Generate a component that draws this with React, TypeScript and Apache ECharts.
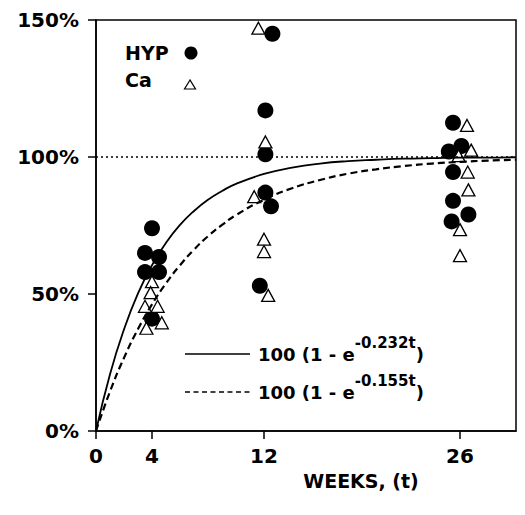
import React, { useEffect, useRef } from "react";
import * as echarts from "echarts";

// Tick labels
const xTicks = [0, 4, 12, 26];
const yTicks = [0, 50, 100, 150];

// HYP (filled circles): week (with plotted jitter) and percent
const hypT = [4.0, 3.5, 4.5, 3.5, 4.5, 4.0, 12.6, 12.1, 12.1, 12.1, 12.5, 11.7, 25.5, 26.1, 25.2, 25.5, 25.5, 26.6, 25.4];
const hypPct = [74, 65, 63.5, 58, 58, 41, 145, 117, 101, 87, 82, 53, 112.5, 104, 102, 94.5, 84, 79, 76.5];

// Ca (open triangles)
const caT = [4.0, 3.9, 3.5, 4.4, 3.6, 4.7, 11.6, 12.1, 11.3, 12.0, 12.0, 12.3, 26.5, 26.8, 25.9, 26.55, 26.6, 26.0, 26.0];
const caPct = [54.5, 50.5, 45.5, 45.5, 37.5, 39.5, 147, 105.5, 85.5, 70, 65.5, 49.5, 111.5, 102.5, 100.5, 94.5, 88, 73.5, 64];

// Fitted curves
const curveT = [0, 1, 2, 3, 4, 5, 6, 7, 8, 9, 10, 12, 14, 16, 18, 20, 22, 24, 26, 28, 30];
const fastCurve = [0, 20.7, 37.1, 50.2, 60.5, 68.7, 75.2, 80.3, 84.4, 87.6, 90.2, 93.8, 96.1, 97.6, 98.5, 99.0, 99.4, 99.6, 99.8, 99.8, 99.9];
const slowCurve = [0, 14.4, 26.7, 37.2, 46.2, 53.9, 60.5, 66.2, 71.1, 75.2, 78.8, 84.4, 88.6, 91.6, 93.9, 95.5, 96.7, 97.6, 98.2, 98.7, 99.0];

const FONT = "DejaVu Sans";

export default function App() {
  const ref = useRef<HTMLDivElement>(null);
  useEffect(() => {
    if (!ref.current) return;
    const chart = echarts.init(ref.current, null, { renderer: "svg" });
    const txt = { fontFamily: FONT, fontWeight: "bold" as const, color: "#000" };
    const eqRich = {
      a: { fontFamily: FONT, fontWeight: "bold", fontSize: 18, lineHeight: 37, fill: "#000", color: "#000" },
      b: { fontFamily: FONT, fontWeight: "bold", fontSize: 15, lineHeight: 15, verticalAlign: "top", fill: "#000", color: "#000" },
    };
    chart.setOption({
      animation: false,
      backgroundColor: "#fff",
      grid: {
        left: 96, right: 9, top: 20, bottom: 84, containLabel: false,
        show: true, borderColor: "#000", borderWidth: 1.5, backgroundColor: "transparent",
      },
      xAxis: {
        type: "value", min: 0, max: 30,
        splitLine: { show: false },
        axisLine: { show: true, onZero: false, lineStyle: { color: "#000", width: 1.5 } },
        axisTick: { show: true, customValues: xTicks, length: 8, lineStyle: { color: "#000", width: 1.5 } },
        axisLabel: { customValues: xTicks, margin: 15, fontSize: 20, ...txt },
      },
      yAxis: {
        type: "value", min: yTicks[0], max: yTicks[yTicks.length - 1], interval: 50,
        splitLine: { show: false },
        axisLine: { show: true, lineStyle: { color: "#000", width: 1.5 } },
        axisTick: { show: true, length: 8, lineStyle: { color: "#000", width: 1.5 } },
        axisLabel: { margin: 17, fontSize: 20, formatter: "{value}%", ...txt },
      },
      series: [
        {
          type: "line", smooth: true, showSymbol: false, silent: true,
          data: curveT.map((t, i) => [t, fastCurve[i]]),
          lineStyle: { color: "#000", width: 1.8, type: "solid" },
          markLine: {
            symbol: "none", silent: true, label: { show: false },
            lineStyle: { color: "#000", width: 1.5, type: [2, 3] },
            data: [{ yAxis: 100 }],
          },
        },
        {
          type: "line", smooth: true, showSymbol: false, silent: true,
          data: curveT.map((t, i) => [t, slowCurve[i]]),
          lineStyle: { color: "#000", width: 2.2, type: [7, 4] },
        },
        {
          type: "scatter", name: "HYP", symbol: "circle", symbolSize: 16,
          data: hypT.map((t, i) => [t, hypPct[i]]),
          itemStyle: { color: "#000", opacity: 1 },
        },
        {
          type: "scatter", name: "Ca", symbol: "triangle", symbolSize: [13, 12],
          data: caT.map((t, i) => [t, caPct[i]]),
          itemStyle: { color: "#fff", borderColor: "#000", borderWidth: 1.3, opacity: 1 },
        },
      ],
      graphic: [
        { type: "text", left: 125, top: 43, style: { text: "HYP", font: `bold 19px "${FONT}"`, fill: "#000" } },
        { type: "circle", shape: { cx: 191, cy: 53, r: 6.5 }, style: { fill: "#000" } },
        { type: "text", left: 125, top: 70, style: { text: "Ca", font: `bold 19px "${FONT}"`, fill: "#000" } },
        { type: "polygon", shape: { points: [[190, 80], [184.5, 89], [195.5, 89]] }, style: { fill: "#fff", stroke: "#000", lineWidth: 1.2 } },
        { type: "line", shape: { x1: 185, y1: 354, x2: 250, y2: 354 }, style: { stroke: "#000", lineWidth: 1.5 } },
        {
          type: "text", x: 258, y: 354,
          style: { text: "{a|100 (1 - e}{b|-0.232t}{a|)}", rich: eqRich, verticalAlign: "middle", align: "left" },
        },
        { type: "line", shape: { x1: 185, y1: 392, x2: 250, y2: 392 }, style: { stroke: "#000", lineWidth: 1.5, lineDash: [5, 3.5] } },
        {
          type: "text", x: 258, y: 392,
          style: { text: "{a|100 (1 - e}{b|-0.155t}{a|)}", rich: eqRich, verticalAlign: "middle", align: "left" },
        },
        {
          type: "text", x: 361, y: 481,
          style: { text: "WEEKS, (t)", font: `bold 19px "${FONT}"`, fill: "#000", align: "center", verticalAlign: "middle" },
        },
      ],
    });
    return () => chart.dispose();
  }, []);
  return <div ref={ref} style={{ position: "fixed", left: 0, top: 0, width: 525, height: 515 }} />;
}
